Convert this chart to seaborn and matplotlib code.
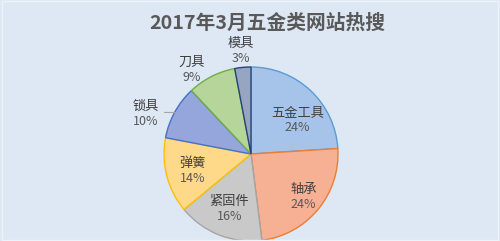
"""
Pie chart: 2017年3月五金类网站热搜
"""

import numpy as np
import matplotlib
matplotlib.use('Agg')
import matplotlib.pyplot as plt
import seaborn as sns

# data
categories = ['五金工具', '轴承', '紧固件', '弹簧', '锁具', '刀具', '模具']
shares = [24, 24, 16, 14, 10, 9, 3]
pct_labels = ['24%', '24%', '16%', '14%', '10%', '9%', '3%']

# colours (fill / outline)
fills = ['#A6C4E9', '#F6B093', '#C9C9C9', '#FFD98A', '#94A6DC', '#B5D59A', '#96A5C0']
edges = ['#5B9BD5', '#ED7D31', '#A5A5A5', '#FFC000', '#4472C4', '#70AD47', '#264478']

# label placement: radial distance (fraction of radius) and angle shift in degrees
label_dist = [0.66, 0.78, 0.68, 0.70, 1.29, 1.18, 1.19]
label_shift = [-11, 0, 0, 2, 8, 8, 0]

bg = '#DDE8F4'

sns.set_theme(style='white')
plt.rcParams['font.family'] = ['Noto Sans CJK SC', 'DejaVu Sans']

fig = plt.figure(figsize=(5.0, 2.41), dpi=100)
fig.patch.set_facecolor(bg)

# pie centre at (251, 154) px, radius 87 px
ax = fig.add_axes([(251 - 87) / 500, 0, 174 / 500, 174 / 241])
ax.set_facecolor(bg)
ax.patch.set_alpha(0)

wedges, _ = ax.pie(shares, colors=fills, startangle=90, counterclock=False,
                   radius=1.0, wedgeprops=dict(linewidth=1.0))
for w, ec in zip(wedges, edges):
    w.set_edgecolor(ec)

for i, w in enumerate(wedges):
    mid = np.deg2rad((w.theta1 + w.theta2) / 2 + label_shift[i])
    r = label_dist[i]
    x, y = r * np.cos(mid), r * np.sin(mid)
    ax.text(x, y + 0.085, categories[i], ha='center', va='center',
            fontsize=9.5, color='#404040')
    ax.text(x, y - 0.085, pct_labels[i], ha='center', va='center',
            fontsize=9, color='#595959')
    if i == 4:
        # leader line for the 锁具 label
        mid0 = np.deg2rad((w.theta1 + w.theta2) / 2)
        ex, ey = np.cos(mid0) * 0.99, np.sin(mid0) * 0.99
        ax.plot([x + 0.14, ex], [y + 0.02, ey], color='#A6A6A6', lw=0.8)

ax.set_xlim(-1, 1)
ax.set_ylim(-1, 1)
ax.set_aspect('equal')
ax.axis('off')

fig.text(0.534, 0.905, '2017年3月五金类网站热搜', ha='center', va='center',
         fontsize=14.2, fontweight='bold', color='#595959')

# faint inner frame
fig.patches.append(plt.Rectangle((0.004, 0.006), 0.992, 0.988, transform=fig.transFigure,
                                 fill=False, edgecolor='#EEF3FA', lw=1.0))

fig.savefig('out.png', dpi=100, facecolor=bg)
